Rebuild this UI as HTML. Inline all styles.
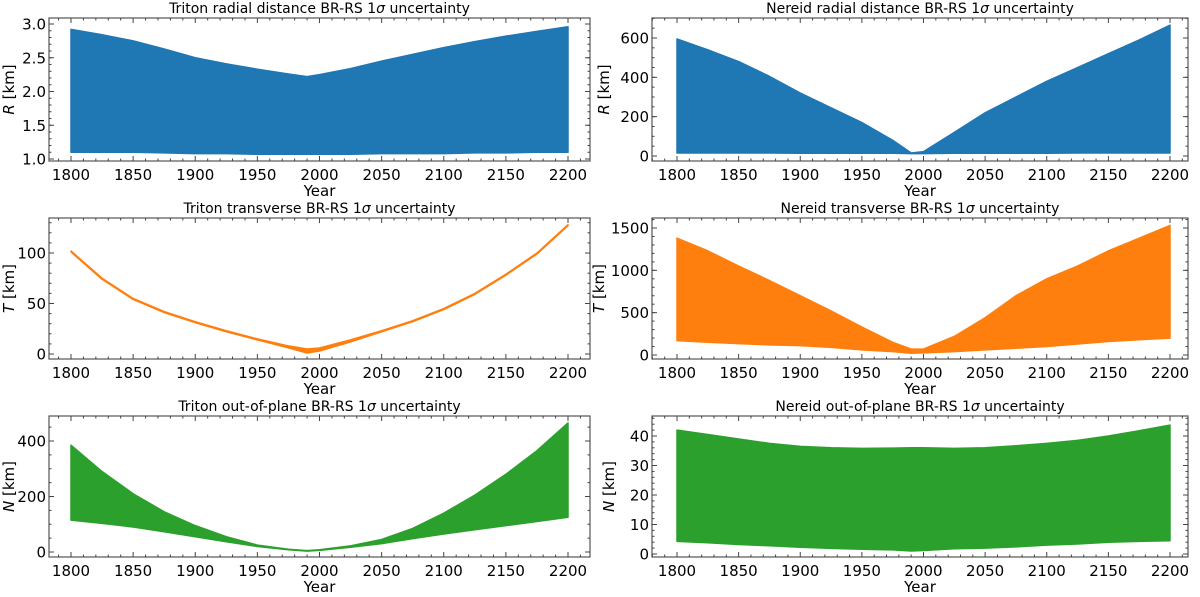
<!DOCTYPE html>
<html><head><meta charset="utf-8"><style>
body{margin:0;background:#fff;width:1200px;height:592px;overflow:hidden}
svg text{font-family:"DejaVu Sans","Liberation Sans",sans-serif}
</style></head><body>
<svg id="fig" width="1200" height="592"></svg>
<script>
const years=[1800,1825,1850,1875,1900,1925,1950,1975,1990,2000,2025,2050,2075,2100,2125,2150,2175,2200];
const tritonRUpper=[2.92,2.84,2.75,2.63,2.5,2.41,2.33,2.26,2.22,2.25,2.34,2.45,2.55,2.65,2.74,2.82,2.89,2.96];
const tritonRLower=[1.1,1.1,1.1,1.09,1.08,1.08,1.07,1.07,1.07,1.07,1.07,1.08,1.08,1.08,1.09,1.09,1.1,1.1];
const nereidRUpper=[595,540,480,405,320,245,170,80,15,22,120,220,300,380,450,520,590,665];
const nereidRLower=[15,15,15,15,14,14,14,14,12,12,14,14,14,14,15,15,15,15];
const tritonTUpper=[102,75,55,42,32,23,15,8,5,6,14,23,33,45,60,79,100,128];
const tritonTLower=[101,74,54,41,31,22,14,6,1,3,12,22,32,44,59,78,99,127];
const nereidTUpper=[1380,1230,1050,880,700,520,330,150,70,70,220,440,700,900,1050,1230,1380,1530];
const nereidTLower=[170,150,135,120,110,90,60,40,20,25,40,60,80,100,130,160,180,200];
const tritonNUpper=[385,290,210,145,95,55,25,10,5,8,22,45,85,140,205,280,365,465];
const tritonNLower=[115,103,90,73,55,37,20,8,3,6,17,30,48,65,80,95,110,125];
const nereidNUpper=[42,40.5,39,37.5,36.5,36,35.8,35.9,36,36,35.8,36,36.7,37.5,38.5,40,41.8,43.7];
const nereidNLower=[4.3,3.8,3.2,2.8,2.3,1.9,1.6,1.4,1,1.2,1.8,2,2.4,3,3.4,4,4.3,4.5];
const xTicks=[1800,1850,1900,1950,2000,2050,2100,2150,2200];

const panels=[
 {name:'triton-radial',title:'Triton radial distance BR-RS 1',yl:'R',x0:49,x1:590,y0:18,y1:161,xp:[71,568],v:[1,3],vp:[159,24],ticks:[1,1.5,2,2.5,3],fmt:v=>v.toFixed(1),up:tritonRUpper,lo:tritonRLower,c:'#1f77b4',minor:0.1,ly:14},
 {name:'nereid-radial',title:'Nereid radial distance BR-RS 1',yl:'R',x0:652,x1:1188,y0:18,y1:161,xp:[677,1170],v:[0,600],vp:[156,38],ticks:[0,200,400,600],fmt:v=>v,up:nereidRUpper,lo:nereidRLower,c:'#1f77b4',minor:50,ly:609},
 {name:'triton-transverse',title:'Triton transverse BR-RS 1',yl:'T',x0:49,x1:590,y0:218,y1:359,xp:[71,568],v:[0,100],vp:[354,253],ticks:[0,50,100],fmt:v=>v,up:tritonTUpper,lo:tritonTLower,c:'#ff7f0e',minor:10,ly:14},
 {name:'nereid-transverse',title:'Nereid transverse BR-RS 1',yl:'T',x0:652,x1:1188,y0:218,y1:359,xp:[677,1170],v:[0,1500],vp:[355,228],ticks:[0,500,1000,1500],fmt:v=>v,up:nereidTUpper,lo:nereidTLower,c:'#ff7f0e',minor:100,ly:604},
 {name:'triton-out-of-plane',title:'Triton out-of-plane BR-RS 1',yl:'N',x0:49,x1:590,y0:416,y1:557,xp:[71,568],v:[0,400],vp:[552,441],ticks:[0,200,400],fmt:v=>v,up:tritonNUpper,lo:tritonNLower,c:'#2ca02c',minor:50,ly:14},
 {name:'nereid-out-of-plane',title:'Nereid out-of-plane BR-RS 1',yl:'N',x0:652,x1:1188,y0:416,y1:557,xp:[677,1170],v:[0,40],vp:[554,436],ticks:[0,10,20,30,40],fmt:v=>v,up:nereidNUpper,lo:nereidNLower,c:'#2ca02c',minor:2,ly:614}
];
const svg=document.getElementById('fig');
const NS='http://www.w3.org/2000/svg';
function mk(t,a,p){const e=document.createElementNS(NS,t);for(const k in a)e.setAttribute(k,a[k]);(p||svg).appendChild(e);return e;}
panels.forEach(P=>{
 const g=mk('g',{});
 
 
 const X=y=>P.xp[0]+(y-1800)*(P.xp[1]-P.xp[0])/400;
 const Y=v=>P.vp[0]+(v-P.v[0])*(P.vp[1]-P.vp[0])/(P.v[1]-P.v[0]);
 let d='M'+years.map((yr,i)=>X(yr)+','+Y(P.up[i])).join('L');
 for(let i=years.length-1;i>=0;i--)d+='L'+X(years[i])+','+Y(P.lo[i]);
 const band=mk('path',{d:d+'Z',fill:P.c,stroke:P.c,'stroke-width':1.5,'stroke-linejoin':'round'},g);
 
 
 mk('rect',{x:P.x0,y:P.y0,width:P.x1-P.x0,height:P.y1-P.y0,fill:'none',stroke:'#555','stroke-width':1.2},g);
 for(let yr=1780;yr<=2220;yr+=10){if(X(yr)<P.x0||X(yr)>P.x1)continue;const L=yr%50===0?5:2.5;
  mk('line',{x1:X(yr),x2:X(yr),y1:P.y1,y2:P.y1-L,stroke:'#444'},g);mk('line',{x1:X(yr),x2:X(yr),y1:P.y0,y2:P.y0+L,stroke:'#444'},g);}
 xTicks.forEach(t=>{const tx=mk('text',{x:X(t),y:P.y1+19,'font-size':15,'text-anchor':'middle',fill:'#000'},g);tx.textContent=t;
  });
 for(let v=P.v[0]-P.minor*20;v<=P.v[1]+P.minor*20;v+=P.minor){const py=Y(v);if(py<P.y0||py>P.y1)continue;
  mk('line',{x1:P.x0,x2:P.x0+2.5,y1:py,y2:py,stroke:'#444'},g);mk('line',{x1:P.x1,x2:P.x1-2.5,y1:py,y2:py,stroke:'#444'},g);}
 P.ticks.forEach(t=>{const py=Y(t);mk('line',{x1:P.x0,x2:P.x0+5,y1:py,y2:py,stroke:'#444'},g);mk('line',{x1:P.x1,x2:P.x1-5,y1:py,y2:py,stroke:'#444'},g);
  const tx=mk('text',{x:P.x0-3,y:py+5.5,'font-size':15,'text-anchor':'end',fill:'#000'},g);tx.textContent=P.fmt(t);
  });
 const ti=mk('text',{x:(P.x0+P.x1)/2,y:P.y0-5,'font-size':14,'text-anchor':'middle',fill:'#000'},g);
 ti.innerHTML=P.title+'<tspan font-style="italic">σ</tspan> uncertainty';
 
 const xl=mk('text',{x:(P.x0+P.x1)/2,y:P.y1+35,'font-size':15,'text-anchor':'middle',fill:'#000'},g);xl.textContent='Year';
 
 const cy=(P.y0+P.y1)/2;
 const yl=mk('text',{x:P.ly,y:cy,'font-size':15,'text-anchor':'middle',fill:'#000',transform:'rotate(-90 '+P.ly+' '+cy+')'},g);
 yl.innerHTML='<tspan font-style="italic">'+P.yl+'</tspan> [km]';
 
});
</script>
</body></html>
